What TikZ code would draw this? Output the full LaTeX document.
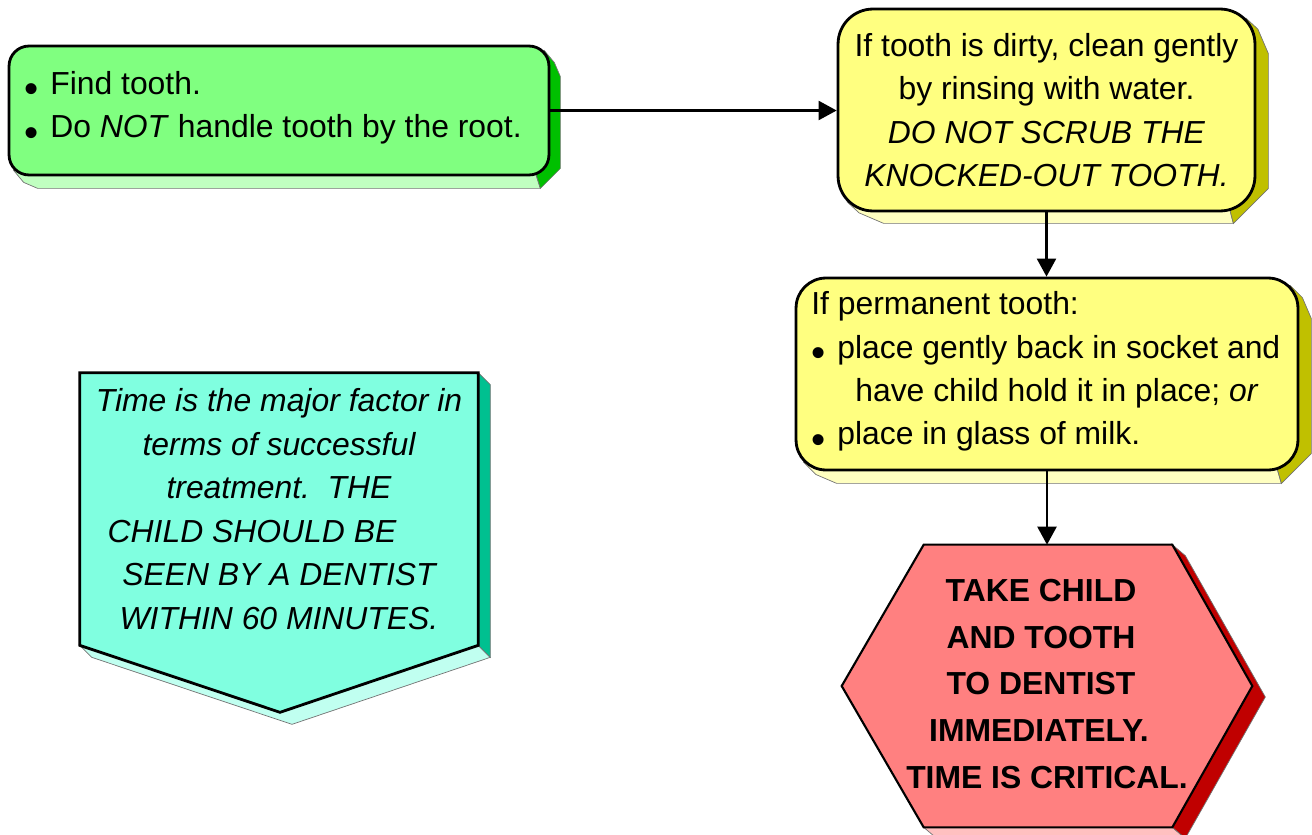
\documentclass[tikz,border=0pt]{standalone}
\usepackage{fontspec}
\setmainfont{Liberation Sans}
\usetikzlibrary{calc,arrows.meta,backgrounds}
\definecolor{gface}{HTML}{80FF80}
\definecolor{gdark}{HTML}{00C000}
\definecolor{glight}{HTML}{C0FFC0}
\definecolor{yface}{HTML}{FFFF80}
\definecolor{ydark}{HTML}{C0C000}
\definecolor{ylight}{HTML}{FFFFC0}
\definecolor{cface}{HTML}{80FFE0}
\definecolor{cdark}{HTML}{00C090}
\definecolor{clight}{HTML}{C0FFF0}
\definecolor{rface}{HTML}{FF8080}
\definecolor{rdark}{HTML}{C00000}
\definecolor{rlight}{HTML}{FFC0C0}
\newcommand\bul{\makebox[0.52cm][l]{\raisebox{-5pt}{\fontsize{23}{23}\selectfont •}}}
\newcommand\myextrude[6]{%
 \filldraw[fill=#6, edgeline] ($(#1.south west)+(0.3*#2,-0.3*#2)$) -- ++(#3,#4) -- ($(#1.south west)+(#2+#3,#4)$) -- ($(#1.south east)+(-#2+#3,#4)$) -- ($(#1.south east)+(-#2,-#2)$) -- cycle;
 \filldraw[fill=#5, edgeline] ($(#1.north east)+(-0.3*#2,0.3*#2)$) -- ++(#3,#4) -- ($(#1.north east)+(#3,#2+#4)$) -- ($(#1.south east)+(#3,-#2+#4)$) -- ($(#1.south east)+(-#2+#3,#4)$) -- ($(#1.south east)+(-#2,-#2)$) -- cycle;}
\begin{document}
\begin{tikzpicture}[x=0.02cm,y=-0.02cm,
  edgeline/.style={draw=black!55, line width=0.4pt},
  rbox/.style={draw=black, line width=1.6pt, inner sep=0pt},
  txt/.style={font=\fontsize{18.14}{24.6}\selectfont, inner sep=0pt},
  arr/.style={-{Triangle[length=0.36cm,width=0.38cm]}, line width=1.3pt}]
\useasboundingbox (0,0) rectangle (1312,835);

% green box
\node[rbox, fill=gface, rounded corners=0.4cm, minimum width=10.8cm, minimum height=2.58cm] (g) at (279,110.5) {};
\node[txt, anchor=west, align=left] (gt) at (24,108.5) {\bul Find tooth.\\ \bul Do \textit{NOT} handle tooth by the root.};

% yellow box 1
\node[rbox, txt, fill=yface, rounded corners=0.7cm, minimum width=8.34cm, minimum height=4.04cm, align=center] (y1) at (1046.5,110)
  {If tooth is dirty, clean gently\\ by rinsing with water.\\ \textit{DO NOT SCRUB THE}\\ \textit{KNOCKED-OUT TOOTH.}};

% yellow box 2
\node[rbox, fill=yface, rounded corners=0.6cm, minimum width=10.04cm, minimum height=3.84cm] (y2) at (1047,374) {};
\node[txt, anchor=west, align=left] (y2t) at (811,372.5)
  {If permanent tooth:\\ \bul place gently back in socket and\\ \hspace*{0.88cm}have child hold it in place; \textit{or}\\ \bul place in glass of milk.};

% cyan pentagon
\node[txt, font=\fontsize{18.14}{24.8}\selectfont\itshape, minimum width=7.96cm, minimum height=5.44cm, align=center] (c) at (279,509)
  {Time is the major factor in\\ terms of successful\\ treatment.\ \ THE\\ CHILD SHOULD BE\rule{1.08cm}{0pt}\\ SEEN BY A DENTIST\\ WITHIN 60 MINUTES.};
\coordinate (cB) at ($(c.south)+(1,67)$);

% red hexagon
\node[txt, font=\fontsize{18.14}{26.5}\selectfont\bfseries, minimum width=8.2cm, minimum height=5.64cm, align=center] (h) at (1047,684)
  {TAKE CHILD\rule{0.24cm}{0pt}\\ AND TOOTH\rule{0.24cm}{0pt}\\ TO DENTIST\rule{0.24cm}{0pt}\\ IMMEDIATELY.\rule{0.32cm}{0pt}\\ TIME IS CRITICAL.};
\coordinate (hTL) at ($(h.north west)+(82,2)$);
\coordinate (hTR) at ($(h.north east)+(-80,2)$);
\coordinate (hBL) at ($(h.south west)+(82,2)$);
\coordinate (hBR) at ($(h.south east)+(-80,2)$);
\coordinate (hL) at ($(h.west)+(0,2)$);
\coordinate (hR) at ($(h.east)+(0,2)$);

\begin{pgfonlayer}{background}
\myextrude{g}{20}{10}{12}{gdark}{glight}
\myextrude{y1}{35}{12}{11}{ydark}{ylight}
\myextrude{y2}{30}{12}{12}{ydark}{ylight}
% cyan
\filldraw[fill=clight, edgeline] (c.south west) -- ++(12,12) -- ($(cB)+(12,12)$) -- ($(c.south east)+(12,12)$) -- (c.south east) -- (cB) -- cycle;
\filldraw[fill=cdark, edgeline] (c.north east) -- ++(12,12) -- ($(c.south east)+(12,12)$) -- (c.south east) -- cycle;
\filldraw[fill=cface, line width=1.6pt] (c.north west) -- (c.north east) -- (c.south east) -- (cB) -- (c.south west) -- cycle;
% hexagon
\filldraw[fill=rlight, edgeline] (hBL) -- ++(13,11) -- ($(hBR)+(13,11)$) -- (hBR) -- cycle;
\filldraw[fill=rdark, edgeline] (hTR) -- ++(13,11) -- ($(hR)+(13,11)$) -- ($(hBR)+(13,11)$) -- (hBR) -- (hR) -- cycle;
\filldraw[fill=rface, line width=1.2pt] (hTL) -- (hTR) -- (hR) -- (hBR) -- (hBL) -- (hL) -- cycle;
\end{pgfonlayer}

% connectors
\draw[arr] (g.east) -- (g.east -| y1.west);
\draw[arr] (y1.south) -- (y1.south |- y2.north);
\draw[arr] (y2.south) -- (y2.south |- hTL);
\end{tikzpicture}
\end{document}
